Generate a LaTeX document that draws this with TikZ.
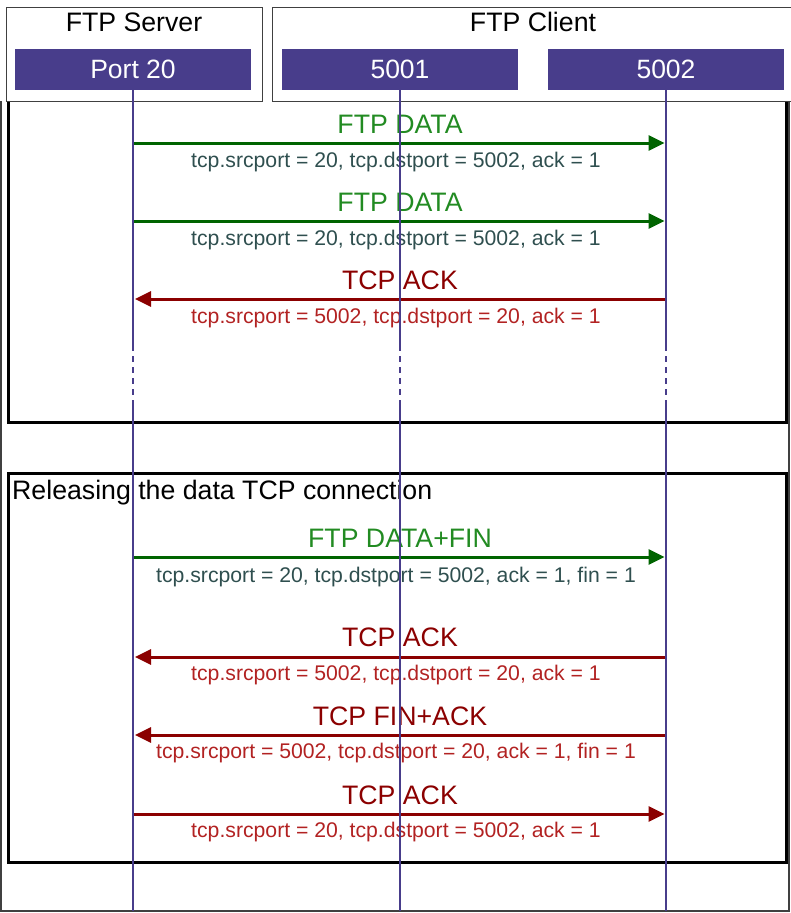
\documentclass[tikz,border=0pt]{standalone}
\usepackage{fontspec}
\setmainfont{Liberation Sans}
\usetikzlibrary{arrows.meta}
\definecolor{lane}{RGB}{72,61,139}
\definecolor{dgreen}{RGB}{0,100,0}
\definecolor{fgreen}{RGB}{34,139,34}
\definecolor{dslate}{RGB}{47,79,79}
\definecolor{dred}{RGB}{139,0,0}
\definecolor{fbrick}{RGB}{178,34,34}
\begin{document}
\begin{tikzpicture}[x=1pt,y=-1pt,
  big/.style={font=\fontsize{26.7}{30}\selectfont, inner sep=0pt, anchor=base},
  small/.style={font=\fontsize{21.2}{24}\selectfont, inner sep=0pt, anchor=base},
  portbox/.style={fill=lane, text=white, minimum width=236pt, minimum height=41pt, inner sep=0pt, font=\fontsize{26.5}{30}\selectfont},
  grpbox/.style={draw=black!75, line width=1pt, fill=white, inner sep=0pt, anchor=north west},
  frame/.style={draw=black, line width=3pt},
  outer/.style={draw=black!75, line width=1.2pt},
  msg/.style={line width=3pt, -{Triangle[length=16pt,width=15pt]}},
  fwd/.style={msg, shorten >=1.5pt},
  bwd/.style={msg, shorten >=2pt},
  life/.style={draw=lane, line width=2pt}]
\useasboundingbox (0,0) rectangle (790,913);

% frames
\draw[outer] (1,101) -- (1,911) -- (789,911) -- (789,101);
\draw[frame] (8,101) -- (8,422) -- (786,422) -- (786,101);
\draw[frame] (8,473) rectangle (786,862);
\node[big, anchor=base west] (rel) at (12,499) {Releasing the data TCP connection};

% headers
\node[grpbox, minimum width=256pt, minimum height=94pt] (srv) at (6,7) {};
\node[grpbox, minimum width=522pt, minimum height=94pt] (cli) at (272,7) {};
\node[big] (srvt) at (134,31.5) {FTP Server};
\node[big] (clit) at (533,31.5) {FTP Client};
\node[portbox] (p20) at (133,69.5) {Port 20};
\node[portbox] (p5001) at (400,69.5) {5001};
\node[portbox] (p5002) at (666,69.5) {5002};

% lifeline coordinates
\coordinate (a1) at (133,345); \coordinate (a2) at (133,405); \coordinate (a3) at (133,911);
\coordinate (b1) at (400,345); \coordinate (b2) at (400,405); \coordinate (b3) at (400,911);
\coordinate (c1) at (666,345); \coordinate (c2) at (666,405); \coordinate (c3) at (666,911);

% message 1
\coordinate (m1s) at (133,143); \coordinate (m1c) at (666,143);
\draw[fwd, dgreen] (m1s) -- (m1c);
\node[big, text=fgreen] (m1l) at (400,133) {FTP DATA};
\node[small, text=dslate] (m1d) at (396,167) {tcp.srcport = 20, tcp.dstport = 5002, ack = 1};
% message 2
\coordinate (m2s) at (133,221); \coordinate (m2c) at (666,221);
\draw[fwd, dgreen] (m2s) -- (m2c);
\node[big, text=fgreen] (m2l) at (400,211) {FTP DATA};
\node[small, text=dslate] (m2d) at (396,245) {tcp.srcport = 20, tcp.dstport = 5002, ack = 1};
% message 3
\coordinate (m3s) at (133,299); \coordinate (m3c) at (666,299);
\draw[bwd, dred] (m3c) -- (m3s);
\node[big, text=dred] (m3l) at (400,289) {TCP ACK};
\node[small, text=fbrick] (m3d) at (396,323) {tcp.srcport = 5002, tcp.dstport = 20, ack = 1};
% message 4
\coordinate (m4s) at (133,557); \coordinate (m4c) at (666,557);
\draw[fwd, dgreen] (m4s) -- (m4c);
\node[big, text=fgreen] (m4l) at (400,547) {FTP DATA+FIN};
\node[small, text=dslate] (m4d) at (396,582) {tcp.srcport = 20, tcp.dstport = 5002, ack = 1, fin = 1};
% message 5
\coordinate (m5s) at (133,657); \coordinate (m5c) at (666,657);
\draw[bwd, dred] (m5c) -- (m5s);
\node[big, text=dred] (m5l) at (400,646) {TCP ACK};
\node[small, text=fbrick] (m5d) at (396,680) {tcp.srcport = 5002, tcp.dstport = 20, ack = 1};
% message 6
\coordinate (m6s) at (133,735); \coordinate (m6c) at (666,735);
\draw[bwd, dred] (m6c) -- (m6s);
\node[big, text=dred] (m6l) at (400,725) {TCP FIN+ACK};
\node[small, text=fbrick] (m6d) at (396,758) {tcp.srcport = 5002, tcp.dstport = 20, ack = 1, fin = 1};
% message 7
\coordinate (m7s) at (133,814); \coordinate (m7c) at (666,814);
\draw[fwd, dred] (m7s) -- (m7c);
\node[big, text=dred] (m7l) at (400,804) {TCP ACK};
\node[small, text=fbrick] (m7d) at (396,837) {tcp.srcport = 20, tcp.dstport = 5002, ack = 1};

% lifelines
\draw[life] (p20.south) -- (a1);
\draw[life, dash pattern=on 6pt off 5pt] (a1) -- (a2);
\draw[life] (a2) -- (a3);
\draw[life] (p5001.south) -- (b1);
\draw[life, dash pattern=on 6pt off 5pt] (b1) -- (b2);
\draw[life] (b2) -- (b3);
\draw[life] (p5002.south) -- (c1);
\draw[life, dash pattern=on 6pt off 5pt] (c1) -- (c2);
\draw[life] (c2) -- (c3);
\end{tikzpicture}
\end{document}
